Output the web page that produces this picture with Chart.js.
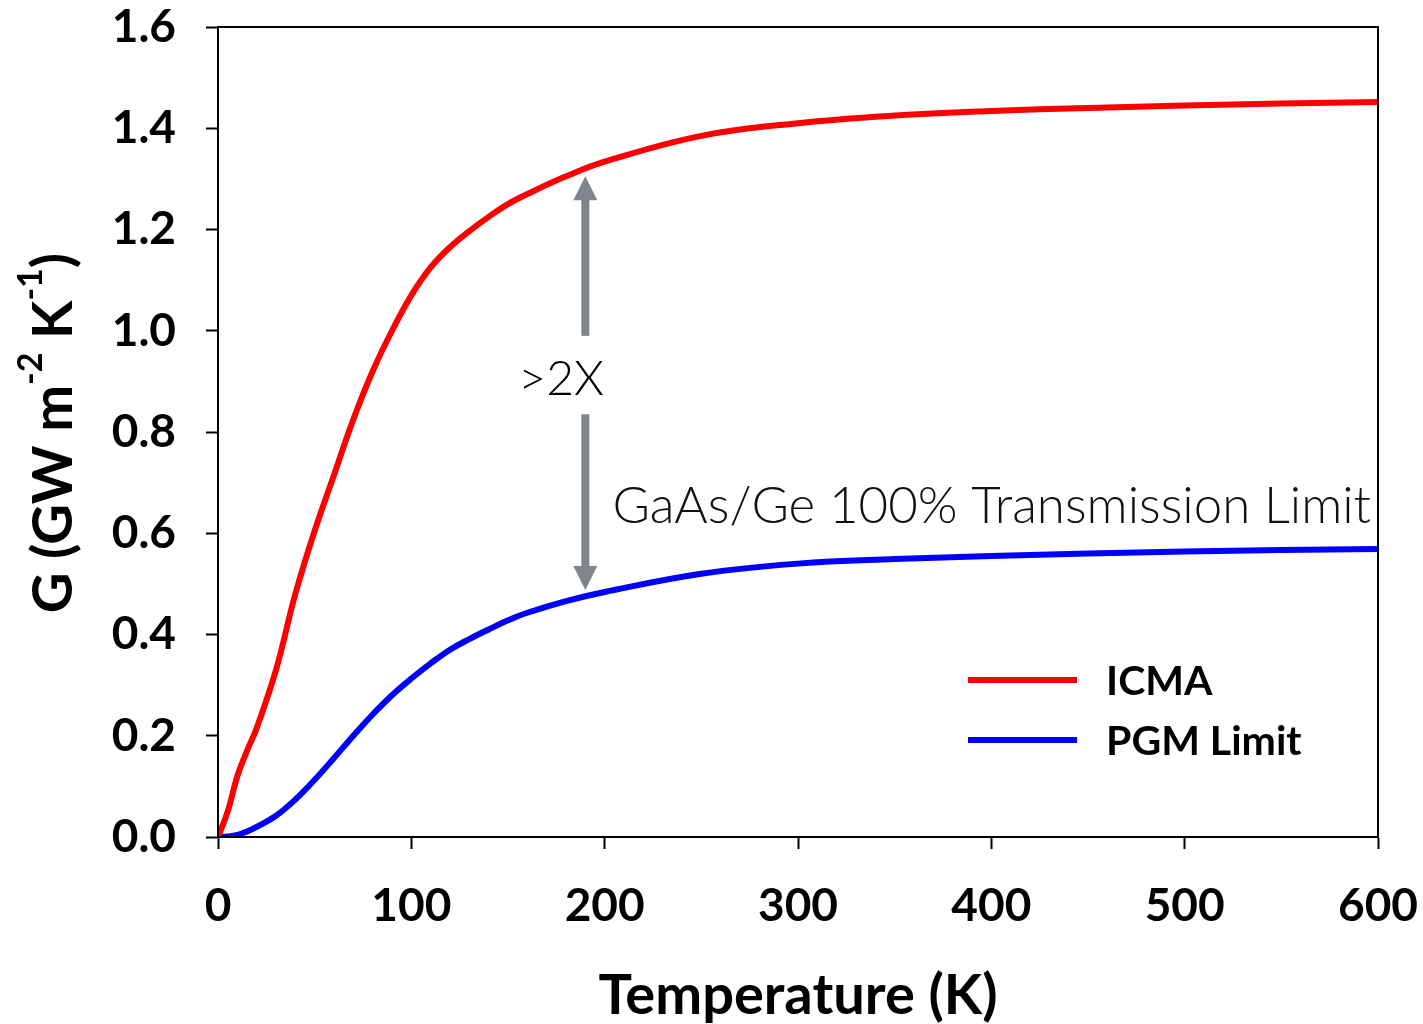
<!DOCTYPE html>
<html lang="en">
<head>
  <meta charset="UTF-8">
  <title>Thermal conductance vs temperature</title>
  <script src="https://cdn.jsdelivr.net/npm/chart.js"></script>
  <style>
    * {
      margin: 0;
      padding: 0;
      box-sizing: border-box;
    }
    body {
      background: white;
    }
    .wrap {
      width: 1423px;
      height: 1024px;
    }
  </style>
</head>
<body>
  <div class="wrap">
    <canvas id="gChart" width="1423" height="1024"></canvas>
  </div>

  <script>
    // temperature grid (K) and conductance G (GW m^-2 K^-1)
    const temps = [0, 5, 10, 15, 20, 30, 40, 50, 60, 70, 80, 90, 100, 110, 120, 130, 140, 150, 160, 180, 200, 250, 300, 350, 400, 450, 500, 550, 600];
    const icma = [0, 0.05, 0.12, 0.17, 0.215, 0.33, 0.48, 0.605, 0.715, 0.825, 0.92, 1.0, 1.07, 1.125, 1.165, 1.197, 1.225, 1.25, 1.27, 1.305, 1.334, 1.385, 1.41, 1.425, 1.434, 1.44, 1.445, 1.449, 1.452];
    const pgm = [0, 0.001, 0.004, 0.011, 0.02, 0.042, 0.074, 0.113, 0.156, 0.2, 0.242, 0.28, 0.313, 0.343, 0.37, 0.391, 0.41, 0.428, 0.443, 0.466, 0.484, 0.52, 0.54, 0.549, 0.555, 0.56, 0.564, 0.567, 0.569];

    const seriesNames = ["ICMA", "PGM Limit"];
    const seriesColors = ["#ff0000", "#0000ff"];

    // ">2X" gap arrow between the curves at T = 190 K
    const arrowT = 190;
    const arrowTop = 1.305;
    const arrowBottom = 0.488;
    const gapTop = 0.99;
    const gapBottom = 0.835;
    const ratioLabel = ">2X";
    const limitLabel = "GaAs/Ge 100% Transmission Limit";

    const tickFont = { family: "Lato", size: 46, weight: "bold" };

    function toPoints(ys) {
      return temps.map((t, i) => ({ x: t, y: ys[i] }));
    }

    // full box round the plot
    const frame = {
      id: "frame",
      afterDatasetsDraw(chart) {
        const { ctx, chartArea: a } = chart;
        ctx.save();
        ctx.strokeStyle = "#000";
        ctx.lineWidth = 2;
        ctx.strokeRect(a.left, a.top, a.right - a.left, a.bottom - a.top);
        ctx.restore();
      }
    };

    // gap arrow + text notes
    const notes = {
      id: "notes",
      afterDatasetsDraw(chart) {
        const { ctx, scales: { x, y } } = chart;
        const ax = x.getPixelForValue(arrowT);
        const yTop = y.getPixelForValue(arrowTop);
        const yBot = y.getPixelForValue(arrowBottom);
        const yGap1 = y.getPixelForValue(gapTop);
        const yGap2 = y.getPixelForValue(gapBottom);
        const head = 24;
        ctx.save();
        ctx.fillStyle = "#7f858c";
        ctx.fillRect(ax - 4, yTop + head - 1, 8, yGap1 - yTop - head + 1);
        ctx.fillRect(ax - 4, yGap2, 8, yBot - head - yGap2 + 1);
        ctx.beginPath();
        ctx.moveTo(ax, yTop);
        ctx.lineTo(ax - 12, yTop + head);
        ctx.lineTo(ax + 12, yTop + head);
        ctx.closePath();
        ctx.fill();
        ctx.beginPath();
        ctx.moveTo(ax, yBot);
        ctx.lineTo(ax - 12, yBot - head);
        ctx.lineTo(ax + 12, yBot - head);
        ctx.closePath();
        ctx.fill();

        ctx.fillStyle = "#000";
        ctx.font = "300 48px Lato";
        ctx.textAlign = "center";
        ctx.textBaseline = "middle";
        ctx.fillText(ratioLabel, x.getPixelForValue(177.5), y.getPixelForValue(0.903));
        ctx.textAlign = "left";
        ctx.fillStyle = "#111";
        ctx.font = "300 51px Lato";
        ctx.fillText(limitLabel, x.getPixelForValue(204), y.getPixelForValue(0.652));
        ctx.restore();
      }
    };

    // legend in the lower right of the plot
    const legendBox = {
      id: "legendBox",
      afterDatasetsDraw(chart) {
        const { ctx } = chart;
        ctx.save();
        ctx.font = "bold 41px Lato";
        ctx.textBaseline = "middle";
        chart.data.datasets.forEach((ds, i) => {
          const ly = 680 + i * 60;
          ctx.strokeStyle = ds.borderColor;
          ctx.lineWidth = 6;
          ctx.beginPath();
          ctx.moveTo(968, ly);
          ctx.lineTo(1077, ly);
          ctx.stroke();
          ctx.fillStyle = "#000";
          ctx.fillText(ds.label, 1106, ly + 2);
        });
        ctx.restore();
      }
    };

    // rotated y title with superscripts
    const yTitle = {
      id: "yTitle",
      afterDraw(chart) {
        const { ctx, chartArea: a } = chart;
        const parts = [
          ["G (GW m", false], ["-2", true], [" K", false], ["-1", true], [")", false]
        ];
        const big = "bold 56px Lato";
        const small = "bold 34px Lato";
        ctx.save();
        let total = 0;
        parts.forEach(([s, sup]) => {
          ctx.font = sup ? small : big;
          total += ctx.measureText(s).width;
        });
        ctx.translate(72, (a.top + a.bottom) / 2 + 1);
        ctx.rotate(-Math.PI / 2);
        ctx.fillStyle = "#000";
        ctx.textBaseline = "alphabetic";
        let cx = -total / 2;
        parts.forEach(([s, sup]) => {
          ctx.font = sup ? small : big;
          ctx.fillText(s, cx, sup ? -30 : 0);
          cx += ctx.measureText(s).width;
        });
        ctx.restore();
      }
    };

    const ctx = document.getElementById("gChart").getContext("2d");
    new Chart(ctx, {
      type: "line",
      data: {
        datasets: [
          {
            label: seriesNames[0],
            data: toPoints(icma),
            borderColor: seriesColors[0],
            borderWidth: 6,
            pointRadius: 0,
            tension: 0.4,
            fill: false
          },
          {
            label: seriesNames[1],
            data: toPoints(pgm),
            borderColor: seriesColors[1],
            borderWidth: 6,
            pointRadius: 0,
            tension: 0.4,
            fill: false
          }
        ]
      },
      options: {
        responsive: false,
        animation: false,
        layout: { padding: { top: 27, right: 45, left: 0, bottom: 0 } },
        plugins: {
          legend: { display: false },
          tooltip: { enabled: false }
        },
        scales: {
          x: {
            type: "linear",
            min: 0,
            max: 600,
            afterFit(scale) {
              scale.height = 187;
              scale.paddingLeft = 0;
              scale.paddingRight = 0;
            },
            ticks: {
              stepSize: 100,
              color: "#000",
              font: tickFont,
              padding: 30,
              maxRotation: 0
            },
            grid: {
              drawOnChartArea: false,
              tickLength: 12,
              tickWidth: 2,
              tickColor: "#000"
            },
            border: { color: "#000", width: 2 },
            title: {
              display: true,
              text: "Temperature (K)",
              color: "#000",
              font: { family: "Lato", size: 56, weight: "bold", lineHeight: 1.0 },
              padding: { top: 0, bottom: 0 }
            }
          },
          y: {
            min: 0,
            max: 1.6,
            afterFit(scale) {
              scale.width = 218;
              scale.paddingTop = 0;
              scale.paddingBottom = 0;
            },
            ticks: {
              stepSize: 0.2,
              color: "#000",
              font: tickFont,
              padding: 30,
              callback: v => v.toFixed(1)
            },
            grid: {
              drawOnChartArea: false,
              tickLength: 12,
              tickWidth: 2,
              tickColor: "#000"
            },
            border: { color: "#000", width: 2 }
          }
        }
      },
      plugins: [frame, notes, legendBox, yTitle]
    });
  </script>
</body>
</html>
